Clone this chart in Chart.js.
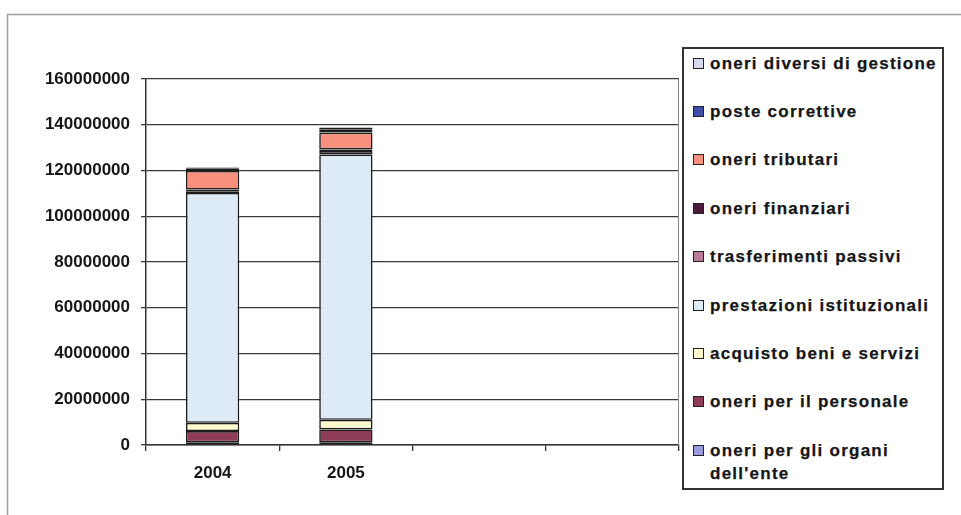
<!DOCTYPE html>
<html>
<head>
<meta charset="utf-8">
<script src="https://cdn.jsdelivr.net/npm/chart.js@4.4.0/dist/chart.umd.min.js"></script>
<style>
html, body { margin: 0; padding: 0; background: #fff; }
#wrap { position: relative; width: 961px; height: 515px; overflow: hidden; background: #fff; }
#c { position: absolute; left: 0; top: 0; }
#legend { position: absolute; left: 682px; top: 47px; width: 262px; height: 443px; box-sizing: border-box;
  border: 2px solid #333; background: #fff; }
#legend .item { position: absolute; left: 0; width: 256px; height: 46px; }
#legend .sw { position: absolute; left: 9px; top: 6px; width: 11px; height: 11px; box-sizing: border-box; border: 1px solid #222; }
#legend .tx { position: absolute; left: 26px; top: 0; width: 228px; font: bold 17px "Liberation Sans", Arial, sans-serif;
  line-height: 23px; letter-spacing: 1.25px; color: #161616; white-space: normal; -webkit-text-stroke: 0.25px #161616; }
</style>
</head>
<body>
<div id="wrap">
  <canvas id="c" width="961" height="515"></canvas>
  <div id="legend"></div>
</div>
<script>
// ---- data ----
const categories = ['2004', '2005', '', ''];
const yTickValues = [0, 20000000, 40000000, 60000000, 80000000, 100000000, 120000000, 140000000, 160000000];

const oneriOrgani        = [1200000, 1200000];
const oneriPersonale     = [4900000, 5600000];
const acquistoBeni       = [3600000, 4200000];
const prestazioniIst     = [100500000, 116000000];
const trasferimenti      = [500000, 1500000];
const oneriFinanziari    = [1000000, 700000];
const oneriTributari     = [8100000, 7400000];
const posteCorrettive    = [1000000, 1200000];
const oneriDiversi       = [500000, 1000000];

const seriesLabels = [
  "oneri per gli organi dell'ente",
  'oneri per il personale',
  'acquisto beni e servizi',
  'prestazioni istituzionali',
  'trasferimenti passivi',
  'oneri finanziari',
  'oneri tributari',
  'poste correttive',
  'oneri diversi di gestione'
];
const seriesData = [oneriOrgani, oneriPersonale, acquistoBeni, prestazioniIst, trasferimenti,
                    oneriFinanziari, oneriTributari, posteCorrettive, oneriDiversi];
const seriesColors = ['#9b9be0', '#8e3b5a', '#fffacd', '#dcebf6', '#b87898',
                      '#4b1a3c', '#f7907c', '#3f4fa8', '#d8d8f0'];

const datasets = seriesData.map((d, i) => ({
  label: seriesLabels[i],
  data: d,
  backgroundColor: seriesColors[i],
  borderColor: '#1c1c1c',
  borderWidth: 1.6,
  borderSkipped: false,
  categoryPercentage: 1.0,
  barPercentage: 0.4
}));

const frames = {
  id: 'frames',
  beforeDraw(chart) {
    const ctx = chart.ctx;
    ctx.save();
    ctx.fillStyle = '#fff';
    ctx.fillRect(0, 0, chart.width, chart.height);
    ctx.strokeStyle = '#a0a0a0';
    ctx.lineWidth = 1.5;
    ctx.beginPath();
    ctx.moveTo(7.5, 515);
    ctx.lineTo(7.5, 14.5);
    ctx.lineTo(961, 14.5);
    ctx.stroke();
    ctx.restore();
  },
  beforeDatasetsDraw(chart) {
    const { ctx, chartArea: a } = chart;
    ctx.save();
    ctx.strokeStyle = '#8a8a8a';
    ctx.lineWidth = 1;
    ctx.beginPath();
    ctx.moveTo(a.right - 0.5, a.top);
    ctx.lineTo(a.right - 0.5, a.bottom);
    ctx.stroke();
    ctx.restore();
  }
};

const htmlLegend = {
  id: 'htmlLegend',
  afterUpdate(chart) {
    const box = document.getElementById('legend');
    box.innerHTML = '';
    const items = Chart.defaults.plugins.legend.labels.generateLabels(chart).slice().reverse();
    items.forEach((it, i) => {
      const row = document.createElement('div');
      row.className = 'item';
      row.style.top = (2.5 + i * 48.4) + 'px';
      const sw = document.createElement('span');
      sw.className = 'sw';
      sw.style.background = it.fillStyle;
      const tx = document.createElement('span');
      tx.className = 'tx';
      tx.textContent = it.text;
      row.appendChild(sw);
      row.appendChild(tx);
      box.appendChild(row);
    });
  }
};

const tickFont = { family: '"Liberation Sans", Arial, sans-serif', size: 17, weight: 'bold' };

new Chart(document.getElementById('c'), {
  type: 'bar',
  data: { labels: categories, datasets },
  plugins: [frames, htmlLegend],
  options: {
    responsive: false,
    animation: false,
    layout: { padding: { left: 0, top: 79, right: 282, bottom: 0 } },
    plugins: {
      legend: { display: false },
      tooltip: { enabled: false },
      title: { display: false }
    },
    scales: {
      x: {
        stacked: true,
        afterFit(s) { s.height = 70; },
        grid: { drawOnChartArea: false, drawTicks: true, tickLength: 6, color: '#333', lineWidth: 1.3, offset: true },
        border: { display: true, color: '#333', width: 1.5 },
        ticks: { font: tickFont, color: '#161616', padding: 12, maxRotation: 0, autoSkip: false }
      },
      y: {
        stacked: true,
        min: 0,
        max: 160000000,
        afterFit(s) { s.width = 146; },
        afterBuildTicks(s) { s.ticks = yTickValues.map(v => ({ value: v })); },
        grid: { color: '#3a3a3a', lineWidth: 1.3, drawTicks: true, tickLength: 5 },
        border: { display: true, color: '#333', width: 1.5 },
        ticks: { font: tickFont, color: '#161616', padding: 11, callback: v => String(v) }
      }
    }
  }
});
</script>
</body>
</html>
